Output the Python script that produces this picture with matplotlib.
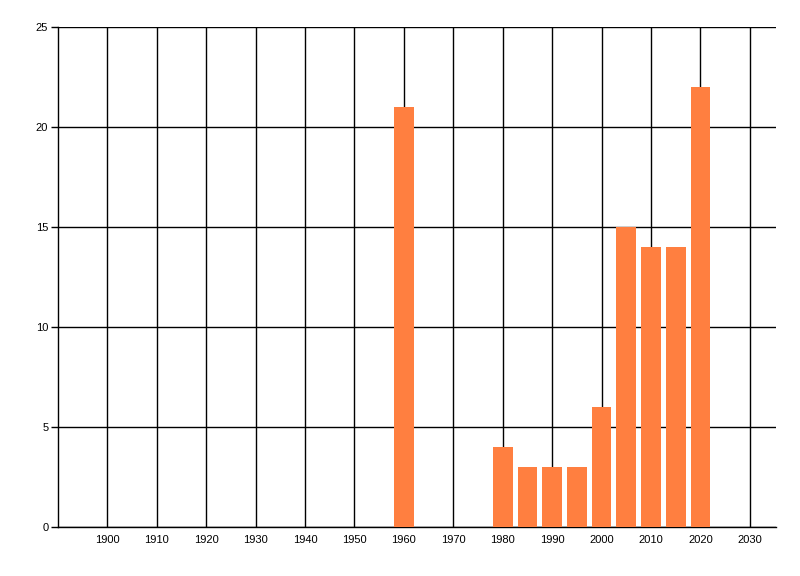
import matplotlib
matplotlib.use("Agg")
import matplotlib.pyplot as plt

years = [1960, 1980, 1985, 1990, 1995, 2000, 2005, 2010, 2015, 2020]
counts = [21, 4, 3, 3, 3, 6, 15, 14, 14, 22]
xticks = list(range(1900, 2031, 10))
yticks = [0, 5, 10, 15, 20, 25]

fig = plt.figure(figsize=(8, 5.76), dpi=100)
ax = fig.add_axes([58/800, 1-527/576, (776-58)/800, 500/576])
ax.bar(years, counts, width=4, color='#FF7F40', zorder=3)
ax.set_xlim(1890, 2035.3)
ax.set_ylim(0, 25)
ax.set_xticks(xticks)
ax.set_yticks(yticks)
ax.set_xticklabels([str(x) for x in xticks], fontsize=8, family='Liberation Sans')
ax.set_yticklabels([str(y) for y in yticks], fontsize=8, family='Liberation Sans')
ax.grid(True, color='black', linewidth=1, zorder=1)
ax.set_axisbelow(True)
for s in ['top', 'right']:
    ax.spines[s].set_visible(False)
for s in ['left', 'bottom']:
    ax.spines[s].set_linewidth(1)
ax.tick_params(axis='x', length=0, pad=6)
ax.tick_params(axis='y', length=5, width=1, pad=2)
fig.savefig('out.png', dpi=100)
